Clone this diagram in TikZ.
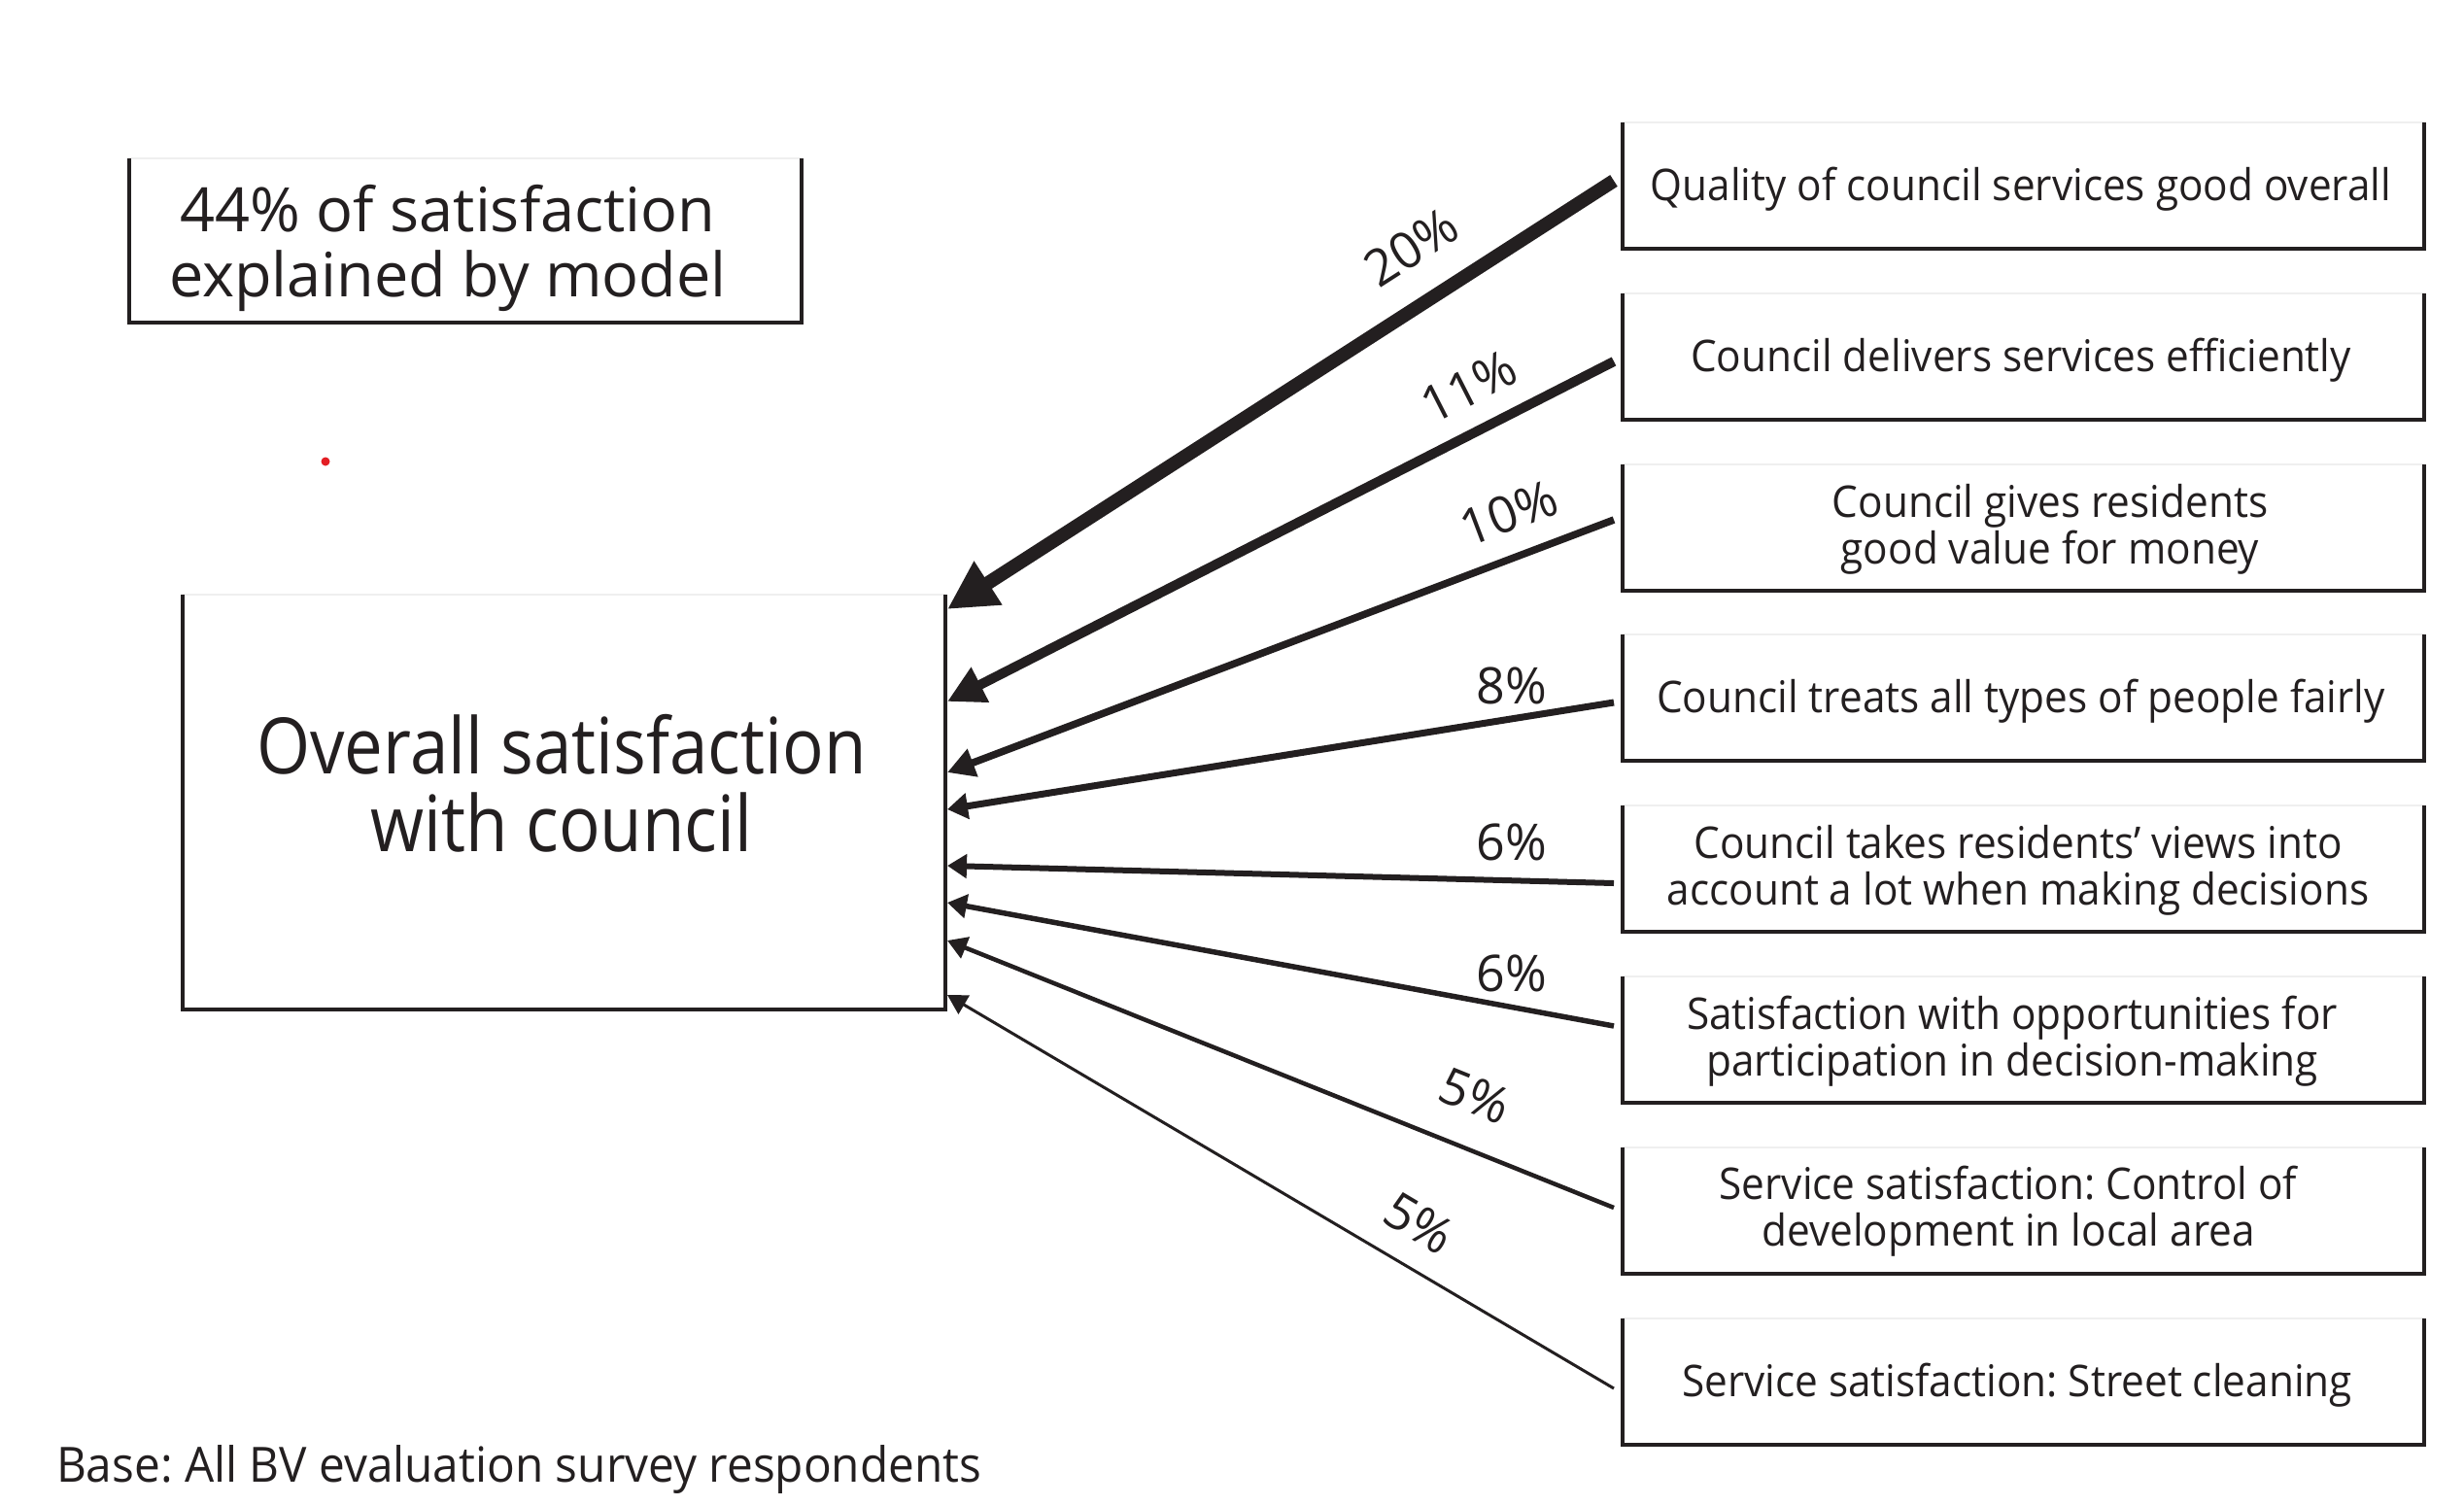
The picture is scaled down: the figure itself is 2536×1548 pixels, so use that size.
\documentclass[tikz,border=0pt]{standalone}
\usepackage{fontspec}
\setmainfont{Open Sans}[FakeStretch=0.94]
\newfontfamily\fwide{Open Sans}[FakeStretch=1.0]
\newfontfamily\fbase{Open Sans}[FakeStretch=0.955]
\newfontfamily\fmain{Open Sans}[FakeStretch=0.885]
\usetikzlibrary{arrows.meta}
\definecolor{ink}{HTML}{231F20}
\definecolor{faint}{HTML}{EFEFEF}
\definecolor{dotred}{HTML}{E31E24}
\frenchspacing
\begin{document}
\begin{tikzpicture}[x=1pt,y=-1pt,
  every node/.style={inner sep=0pt, outer sep=0pt},
  rbox/.style={minimum width=825pt, minimum height=130pt},
  rtext/.style={font=\fontsize{45}{48}\selectfont, align=center, text=ink},
  pct/.style={font=\fwide\fontsize{52}{52}\selectfont, text=ink},
  border/.style={draw=ink, line width=3.5pt, line join=miter},
  topedge/.style={draw=faint, line width=2pt},
  conn/.style={draw=ink, line cap=butt},
]
\useasboundingbox (0,0) rectangle (2536,1548);

% left boxes
\node[minimum width=692pt, minimum height=169pt] (expl) at (479,247.5) {};
\node[font=\fwide\fontsize{63}{67}\selectfont, align=center, text=ink] (explt) at (461,255) {44\% of satisfaction\\explained by model};
\node[minimum width=785pt, minimum height=427pt] (main) at (580.5,825.5) {};
\node[font=\fmain\fontsize{80}{80}\selectfont, align=center, text=ink] (maint) at (578,806) {Overall satisfaction\\with council};

% right boxes
\node[rbox] (r1) at (2082.5,191) {};
\node[rbox] (r2) at (2082.5,367) {};
\node[rbox] (r3) at (2082.5,543) {};
\node[rbox] (r4) at (2082.5,718) {};
\node[rbox] (r5) at (2082.5,894) {};
\node[rbox] (r6) at (2082.5,1070) {};
\node[rbox] (r7) at (2082.5,1246) {};
\node[rbox] (r8) at (2082.5,1422) {};

\node[rtext] (t1) at (2080,195) {Quality of council services good overall};
\node[rtext] (t2) at (2080,371) {Council delivers services efficiently};
\node[rtext] (t3) at (2110,545) {Council gives residents\\ good value for money};
\node[rtext] (t4) at (2080,722) {Council treats all types of people fairly};
\node[rtext] (t5) at (2077,896) {Council takes residents’ views into\\account a lot when making decisions};
\node[rtext] (t6) at (2071,1072) {Satisfaction with opportunities for\\participation in decision-making};
\node[rtext] (t7) at (2067,1247) {Service satisfaction: Control of\\development in local area};
\node[rtext] (t8) at (2076,1426) {Service satisfaction: Street cleaning};

\foreach \n in {expl,main,r1,r2,r3,r4,r5,r6,r7,r8}{
  \draw[topedge] (\n.north west) -- (\n.north east);
  \draw[border] (\n.north west) -- (\n.south west) -- (\n.south east) -- (\n.north east);
}

% connector end points
\coordinate (s1) at (1661,186);
\coordinate (s2) at (1661,372);
\coordinate (s3) at (1661,535);
\coordinate (s4) at (1661,723);
\coordinate (s5) at (1661,909);
\coordinate (s6) at (1661,1056);
\coordinate (s7) at (1661,1243);
\coordinate (s8) at (1661,1429);
\coordinate (e1) at (975,627);
\coordinate (e2) at (975,722);
\coordinate (e3) at (975,795);
\coordinate (e4) at (975,833);
\coordinate (e5) at (975,891);
\coordinate (e6) at (975,929);
\coordinate (e7) at (975,968);
\coordinate (e8) at (975,1024);

\draw[conn, line width=14pt, -{Triangle[length=50pt,width=50pt]}] (s1) -- (e1);
\draw[conn, line width=10pt, -{Triangle[length=38pt,width=38pt]}] (s2) -- (e2);
\draw[conn, line width=7.5pt, -{Triangle[length=28pt,width=29pt]}] (s3) -- (e3);
\draw[conn, line width=7pt, -{Triangle[length=21pt,width=26pt]}] (s4) -- (e4);
\draw[conn, line width=6pt, -{Triangle[length=20pt,width=24pt]}] (s5) -- (e5);
\draw[conn, line width=5.5pt, -{Triangle[length=20pt,width=24pt]}] (s6) -- (e6);
\draw[conn, line width=4.5pt, -{Triangle[length=20pt,width=23pt]}] (s7) -- (e7);
\draw[conn, line width=3pt, -{Triangle[length=20pt,width=22pt]}] (s8) -- (e8);

% labels
\node[pct, rotate=32.7] (l1) at (1452,254) {20\%};
\node[pct, rotate=27] (l2) at (1512,398) {11\%};
\node[pct, rotate=20.8] (l3) at (1553,528) {10\%};
\node[pct] (l4) at (1556,706) {8\%};
\node[pct] (l5) at (1556,867) {6\%};
\node[pct] (l6) at (1556,1002) {6\%};
\node[pct, rotate=-22] (l7) at (1518,1128) {5\%};
\node[pct, rotate=-30.6] (l8) at (1461,1259) {5\%};

% base note
\node[font=\fbase\fontsize{50}{50}\selectfont, text=ink, anchor=base west] (base) at (58,1525) {Base: All BV evaluation survey respondents};

% red dot
\fill[dotred] (335,475) circle (4.5);
\end{tikzpicture}
\end{document}
